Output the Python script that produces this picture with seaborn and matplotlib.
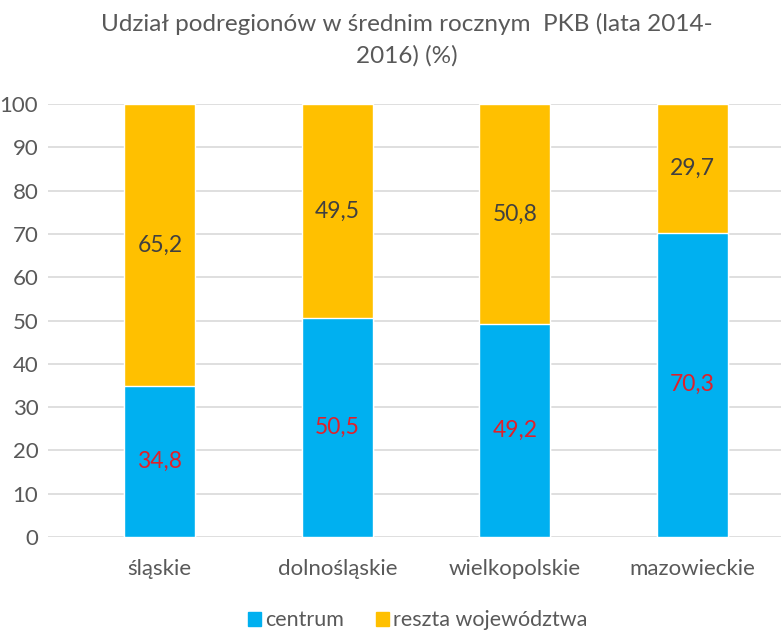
import pandas as pd
import numpy as np
import seaborn as sns
import matplotlib.pyplot as plt
from matplotlib.patches import Patch

regions = ["śląskie", "dolnośląskie", "wielkopolskie", "mazowieckie"]
centrum = [34.8, 50.5, 49.2, 70.3]
reszta = [65.2, 49.5, 50.8, 29.7]

blue = "#00B0F0"
orange = "#FFC000"
grey_txt = "#595959"

sns.set_theme(style="white")
plt.rcParams['font.family'] = ['Lato', 'DejaVu Sans']

df = pd.DataFrame({"region": regions, "centrum": centrum, "reszta": reszta})
df["total"] = df["centrum"] + df["reszta"]

fig = plt.figure(figsize=(7.81, 6.31), dpi=100)
ax = fig.add_axes([0.0615, 0.149, 0.9385, 0.686])

sns.barplot(data=df, x="region", y="total", color=orange, width=0.4,
            saturation=1, ax=ax, zorder=2)
sns.barplot(data=df, x="region", y="centrum", color=blue, width=0.4,
            saturation=1, ax=ax, zorder=3)

ax.set_ylim(0, 100)
ax.set_xlim(-0.63, 3.5)
ax.set_yticks(np.arange(0, 101, 10))
ax.yaxis.grid(True, color="#D9D9D9", linewidth=1.2, zorder=0)
ax.set_axisbelow(True)
for s in ax.spines.values():
    s.set_visible(False)
ax.set_xlabel("")
ax.set_ylabel("")
ax.tick_params(axis="both", length=0, labelsize=16, colors=grey_txt)
ax.tick_params(axis="y", pad=7)
ax.tick_params(axis="x", pad=16)

for i, (c, r) in enumerate(zip(centrum, reszta)):
    ax.text(i, c / 2, f"{c:.1f}".replace(".", ","), ha="center", va="center",
            color="#E0202A", fontsize=16.5, zorder=5)
    ax.text(i, c + r / 2, f"{r:.1f}".replace(".", ","), ha="center", va="center",
            color="#404040", fontsize=16.5, zorder=5)

fig.text(0.521, 0.962, "Udział podregionów w średnim rocznym  PKB (lata 2014-",
         ha="center", va="center", fontsize=17.5, color=grey_txt)
fig.text(0.521, 0.912, "2016) (%)", ha="center", va="center", fontsize=17.5, color=grey_txt)

handles = [Patch(color=blue, label="centrum"), Patch(color=orange, label="reszta województwa")]
fig.legend(handles=handles, loc="center", bbox_to_anchor=(0.535, 0.017), ncol=2,
           frameon=False, fontsize=15.5, handlelength=0.6, handleheight=0.6,
           handletextpad=0.2, columnspacing=1.5, labelcolor=grey_txt)

fig.savefig("out.png", dpi=100)
